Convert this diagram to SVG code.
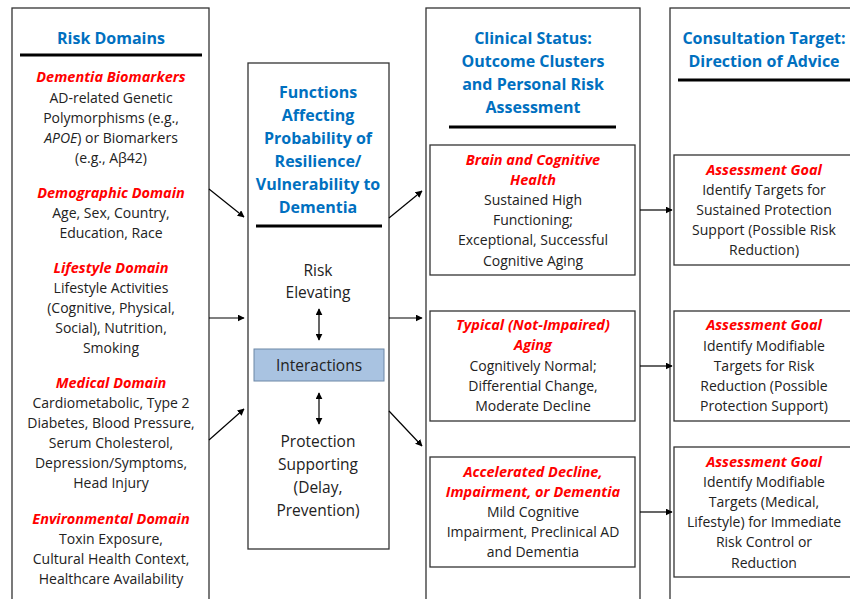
<svg xmlns="http://www.w3.org/2000/svg" width="850" height="599" viewBox="0 0 850 599">
<style>
text{font-family:"Open Sans","Liberation Sans",sans-serif;text-anchor:middle;fill:#222}
.b{font-size:14px}
.h{font-size:14.5px;font-weight:bold;font-style:italic;fill:#ff0000}
.t{font-size:16px;font-weight:bold;fill:#0070c0}
.m{font-size:15.5px}
.box{fill:#fff;stroke:#333;stroke-width:1.3}
.rule{stroke:#000;stroke-width:3}
.con{stroke:#000;stroke-width:1.2;fill:none;marker-end:url(#ah)}
.dbl{stroke:#000;stroke-width:1.2;fill:none;marker-end:url(#ah);marker-start:url(#ahs)}
</style>
<defs>
<marker id="ah" viewBox="0 0 10 10" refX="9" refY="5" markerWidth="7" markerHeight="7" orient="auto" markerUnits="userSpaceOnUse"><path d="M0,0L10,5L0,10z" fill="#000"/></marker>
<marker id="ahs" viewBox="0 0 10 10" refX="1" refY="5" markerWidth="7" markerHeight="7" orient="auto" markerUnits="userSpaceOnUse"><path d="M10,0L0,5L10,10z" fill="#000"/></marker>
</defs>
<rect width="850" height="599" fill="#fff"/>

<g id="risk-domains">
<rect class="box" x="12" y="8" width="197" height="600"/>
<text class="t" x="111" y="44">Risk Domains</text>
<line class="rule" x1="20" y1="55" x2="202" y2="55"/>
<text class="h" x="111" y="82">Dementia Biomarkers</text>
<text class="b" x="111" y="103">AD-related Genetic</text>
<text class="b" x="111" y="123">Polymorphisms (e.g.,</text>
<text class="b" x="111" y="143"><tspan font-style="italic">APOE</tspan>) or Biomarkers</text>
<text class="b" x="111" y="163">(e.g., Aβ42)</text>
<text class="h" x="111" y="198">Demographic Domain</text>
<text class="b" x="111" y="218">Age, Sex, Country,</text>
<text class="b" x="111" y="238">Education, Race</text>
<text class="h" x="111" y="273">Lifestyle Domain</text>
<text class="b" x="111" y="293">Lifestyle Activities</text>
<text class="b" x="111" y="313">(Cognitive, Physical,</text>
<text class="b" x="111" y="333">Social), Nutrition,</text>
<text class="b" x="111" y="353">Smoking</text>
<text class="h" x="111" y="388">Medical Domain</text>
<text class="b" x="111" y="408">Cardiometabolic, Type 2</text>
<text class="b" x="111" y="428">Diabetes, Blood Pressure,</text>
<text class="b" x="111" y="448">Serum Cholesterol,</text>
<text class="b" x="111" y="468">Depression/Symptoms,</text>
<text class="b" x="111" y="488">Head Injury</text>
<text class="h" x="111" y="524">Environmental Domain</text>
<text class="b" x="111" y="544">Toxin Exposure,</text>
<text class="b" x="111" y="564">Cultural Health Context,</text>
<text class="b" x="111" y="584">Healthcare Availability</text>
</g>

<g id="functions">
<rect class="box" x="248" y="63" width="141" height="486"/>
<text class="t" x="318" y="98">Functions</text>
<text class="t" x="318" y="121">Affecting</text>
<text class="t" x="318" y="144">Probability of</text>
<text class="t" x="318" y="167">Resilience/</text>
<text class="t" x="318" y="190">Vulnerability to</text>
<text class="t" x="318" y="213">Dementia</text>
<line class="rule" x1="256" y1="226" x2="382" y2="226"/>
<text class="m" x="318" y="276">Risk</text>
<text class="m" x="318" y="298">Elevating</text>
<text class="m" x="318" y="447">Protection</text>
<text class="m" x="318" y="470">Supporting</text>
<text class="m" x="318" y="493">(Delay,</text>
<text class="m" x="318" y="516">Prevention)</text>
</g>

<g id="interactions">
<rect x="254" y="349" width="130" height="32" fill="#a9c3e1" stroke="#6d87a6" stroke-width="1"/>
<text class="m" x="319" y="371">Interactions</text>
</g>

<g id="clinical-status">
<rect class="box" x="426" y="8" width="214" height="600"/>
<text class="t" x="533" y="44">Clinical Status:</text>
<text class="t" x="533" y="67">Outcome Clusters</text>
<text class="t" x="533" y="90">and Personal Risk</text>
<text class="t" x="533" y="113">Assessment</text>
<line class="rule" x1="449" y1="127" x2="616" y2="127"/>
</g>

<g id="brain-health">
<rect class="box" x="430" y="145" width="205" height="130"/>
<text class="h" x="533" y="165">Brain and Cognitive</text>
<text class="h" x="533" y="185">Health</text>
<text class="b" x="533" y="205">Sustained High</text>
<text class="b" x="533" y="225">Functioning;</text>
<text class="b" x="533" y="245">Exceptional, Successful</text>
<text class="b" x="533" y="266">Cognitive Aging</text>
</g>

<g id="typical-aging">
<rect class="box" x="430" y="311" width="205" height="110"/>
<text class="h" x="533" y="330">Typical (Not-Impaired)</text>
<text class="h" x="533" y="350">Aging</text>
<text class="b" x="533" y="371">Cognitively Normal;</text>
<text class="b" x="533" y="391">Differential Change,</text>
<text class="b" x="533" y="411">Moderate Decline</text>
</g>

<g id="accelerated-decline">
<rect class="box" x="430" y="457" width="205" height="110"/>
<text class="h" x="533" y="477">Accelerated Decline,</text>
<text class="h" x="533" y="497">Impairment, or Dementia</text>
<text class="b" x="533" y="517">Mild Cognitive</text>
<text class="b" x="533" y="537">Impairment, Preclinical AD</text>
<text class="b" x="533" y="557">and Dementia</text>
</g>

<g id="consultation-target">
<rect class="box" x="670" y="8" width="200" height="600"/>
<text class="t" x="764" y="44">Consultation Target:</text>
<text class="t" x="764" y="67">Direction of Advice</text>
<line class="rule" x1="678" y1="80" x2="852" y2="80"/>
</g>

<g id="goal-1">
<rect class="box" x="674" y="155" width="190" height="110"/>
<text class="h" x="764" y="175">Assessment Goal</text>
<text class="b" x="764" y="195">Identify Targets for</text>
<text class="b" x="764" y="215">Sustained Protection</text>
<text class="b" x="764" y="235">Support (Possible Risk</text>
<text class="b" x="764" y="255">Reduction)</text>
</g>

<g id="goal-2">
<rect class="box" x="674" y="311" width="190" height="110"/>
<text class="h" x="764" y="330">Assessment Goal</text>
<text class="b" x="764" y="351">Identify Modifiable</text>
<text class="b" x="764" y="371">Targets for Risk</text>
<text class="b" x="764" y="391">Reduction (Possible</text>
<text class="b" x="764" y="411">Protection Support)</text>
</g>

<g id="goal-3">
<rect class="box" x="674" y="447" width="190" height="130"/>
<text class="h" x="764" y="467">Assessment Goal</text>
<text class="b" x="764" y="487">Identify Modifiable</text>
<text class="b" x="764" y="507">Targets (Medical,</text>
<text class="b" x="764" y="527">Lifestyle) for Immediate</text>
<text class="b" x="764" y="547">Risk Control or</text>
<text class="b" x="764" y="568">Reduction</text>
</g>

<g id="connectors">
<line class="con" x1="209" y1="189" x2="244" y2="217"/>
<line class="con" x1="209" y1="318" x2="244" y2="318"/>
<line class="con" x1="209" y1="440" x2="244" y2="409"/>
<line class="dbl" x1="319" y1="309" x2="319" y2="340"/>
<line class="dbl" x1="319" y1="393" x2="319" y2="424"/>
<line class="con" x1="389" y1="218" x2="422" y2="191"/>
<line class="con" x1="389" y1="318" x2="422" y2="318"/>
<line class="con" x1="389" y1="411" x2="422" y2="446"/>
<line class="con" x1="640" y1="210" x2="672" y2="210"/>
<line class="con" x1="640" y1="366" x2="672" y2="366"/>
<line class="con" x1="640" y1="512" x2="672" y2="512"/>
</g>
</svg>
